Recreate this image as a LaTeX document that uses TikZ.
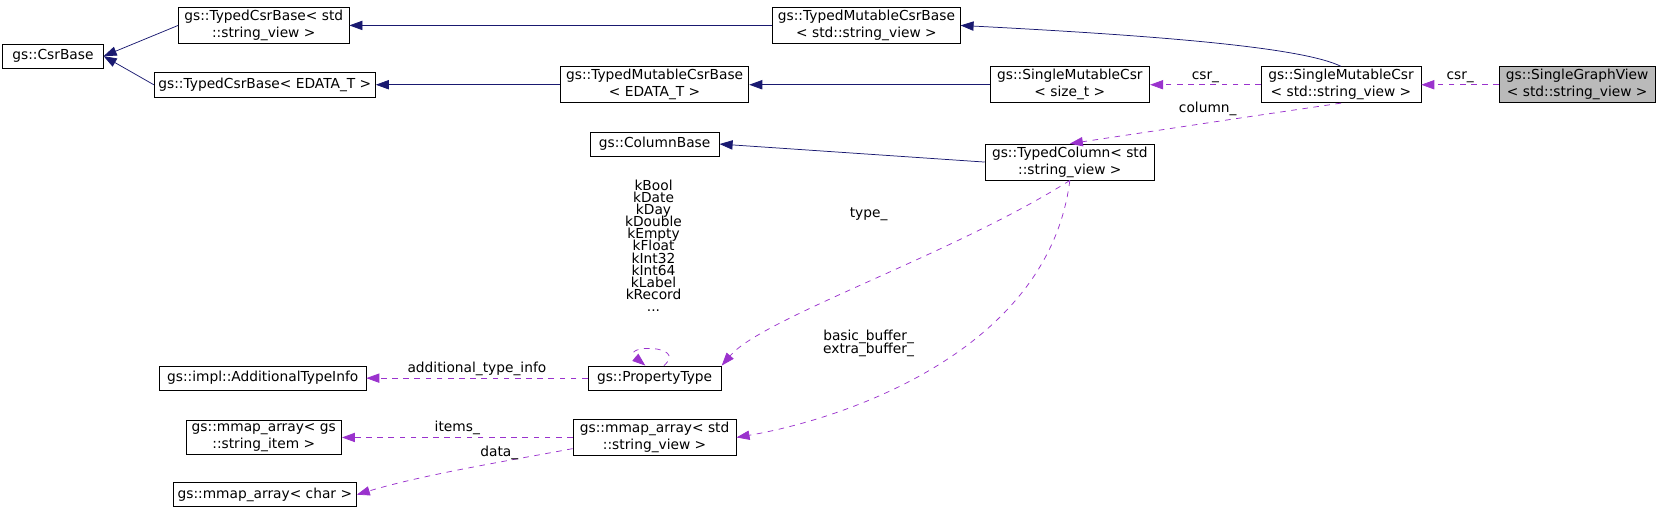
\documentclass[tikz,border=0pt]{standalone}
\usepackage{fontspec}
\setmainfont{DejaVu Sans}
\usetikzlibrary{arrows.meta}
\definecolor{inh}{HTML}{191970}
\definecolor{use}{HTML}{9A32CD}
\begin{document}
\begin{tikzpicture}[x=0.02cm,y=-0.02cm,
    font=\fontsize{7.4}{9}\selectfont,
    box/.style={draw,rectangle,inner sep=1.5pt,minimum height=0.46cm,align=center},
    inherit/.style={draw=inh,{Triangle[length=7pt,width=5pt]}-},
    member/.style={draw=use,dashed,-{Triangle[length=7pt,width=5pt,fill=use]}},
    lbl/.style={inner sep=1pt,align=center}]
\useasboundingbox (0,0) rectangle (1570,486);
\node (csrbase) [box,minimum width=1.9cm] at (50,53) {gs::CsrBase};
\node (tcsv) [box,minimum width=3.22cm] at (249,24) {gs::TypedCsrBase< std\\::string\_view >};
\node (tced) [box,minimum width=4.18cm] at (250,80) {gs::TypedCsrBase< EDATA\_T >};
\node (tmsv) [box,minimum width=3.54cm] at (818,24) {gs::TypedMutableCsrBase\\< std::string\_view >};
\node (tmed) [box,minimum width=3.56cm] at (618,80) {gs::TypedMutableCsrBase\\< EDATA\_T >};
\node (smst) [box,minimum width=3.02cm] at (1010,80) {gs::SingleMutableCsr\\< size\_t >};
\node (smsv) [box,minimum width=3.02cm] at (1266,80) {gs::SingleMutableCsr\\< std::string\_view >};
\node (sgv) [box,minimum width=2.94cm,fill=black!27] at (1489,80) {gs::SingleGraphView\\< std::string\_view >};
\node (colbase) [box,minimum width=2.44cm] at (618,136) {gs::ColumnBase};
\node (tcol) [box,minimum width=3.2cm] at (1010,153) {gs::TypedColumn< std\\::string\_view >};
\node (ptype) [box,minimum width=2.52cm] at (618,357) {gs::PropertyType};
\node (addinfo) [box,minimum width=3.9cm] at (248,357) {gs::impl::AdditionalTypeInfo};
\node (mmsv) [box,minimum width=3.08cm] at (618,413) {gs::mmap\_array< std\\::string\_view >};
\node (mmsi) [box,minimum width=2.94cm] at (249,413) {gs::mmap\_array< gs\\::string\_item >};
\node (mmch) [box,minimum width=3.46cm] at (250,467) {gs::mmap\_array< char >};
% inheritance
\draw [inherit] (csrbase.east) -- (tcsv.west);
\draw [inherit] (csrbase.east) -- (tced.west);
\draw [inherit] (tcsv.east) -- (tmsv.west);
\draw [inherit] (tced.east) -- (tmed.west);
\draw [inherit] (tmsv.east) .. controls (1100,34) and (1230,45) .. (smsv.north);
\draw [inherit] (tmed.east) -- (smst.west);
\draw [inherit] (colbase.east) -- (tcol.west);
% members
\draw [member] (sgv.west) -- node[lbl,above] {csr\_} (smsv.east);
\draw [member] (smsv.west) -- node[lbl,above] {csr\_} (smst.east);
\draw [member] (smsv.south) .. controls (1180,110) .. node[lbl,pos=0.5,above left] {column\_} (tcol.north);
\draw [member] (tcol.south) .. controls (900,240) and (720,300) .. (ptype.north east);
\node [lbl] at (820,202) {type\_};
\draw [member] ([xshift=5pt]ptype.north) .. controls (650,325) and (585,325) .. ([xshift=-5pt]ptype.north);
\node [lbl] at (617,232) {kBool\\[-2.5pt]kDate\\[-2.5pt]kDay\\[-2.5pt]kDouble\\[-2.5pt]kEmpty\\[-2.5pt]kFloat\\[-2.5pt]kInt32\\[-2.5pt]kInt64\\[-2.5pt]kLabel\\[-2.5pt]kRecord\\[-2.5pt]...};
\draw [member] (ptype.west) -- node[lbl,above] {additional\_type\_info} (addinfo.east);
\draw [member] (tcol.south) .. controls (990,330) and (800,395) .. (mmsv.east);
\node [lbl] at (820,324) {basic\_buffer\_\\[-2pt]extra\_buffer\_};
\draw [member] (mmsv.west) -- node[lbl,above,pos=0.5] {items\_} (mmsi.east);
\draw [member] ([yshift=-6pt]mmsv.west) .. controls (480,435) and (400,448) .. node[lbl,above,pos=0.35] {data\_} (mmch.east);
\end{tikzpicture}
\end{document}
